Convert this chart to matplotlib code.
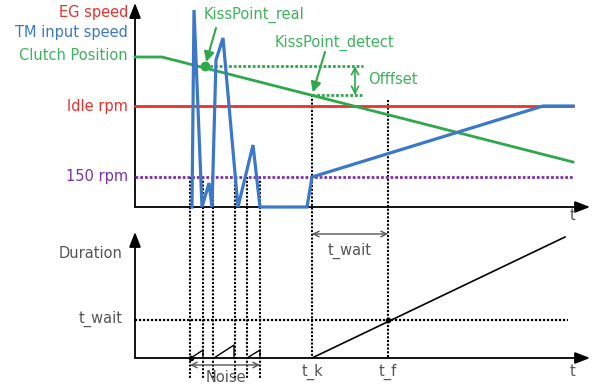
import numpy as np
import matplotlib.pyplot as plt
from matplotlib.lines import Line2D

# schematic in canvas units (x to the right, y downwards like the source picture)
RED = "#e8322c"
BLUE = "#3b78c8"
GREEN = "#2ea84a"
GREEN_TXT = "#3db35c"
PURPLE = "#7a30b0"
GREY = "#555555"

# top panel
top_origin = (135, 207)
top_xend = 590
top_yend = 3
idle_y = 106
rpm150_y = 177
curve_xend = 573

clutch_x = [135, 162, 573]
clutch_y = [57, 57, 162]

tm_x = [192, 194, 202, 209, 212, 216, 223, 238, 253, 260, 307, 312, 543, 573]
tm_y = [207, 10, 207, 183, 207, 60, 38, 207, 145, 207, 207, 177, 106, 106]

kiss_real = (205, 66)
kiss_detect = (312, 95)
offset_x = 355
offset_xend = 363

noise_x = [190, 203, 213, 235, 247, 260]
t_k = 312
t_f = 388

# bottom panel
bot_origin = (135, 358)
bot_yend = 232
twait_y = 320
dur_x = [312, 565]
dur_y = [358, 237]
saw_x = [[191, 203, 203], [214, 234, 234], [247, 260, 260]]
saw_y = [[358, 350, 358], [358, 345, 358], [358, 350, 358]]

fig = plt.figure(figsize=(5.96, 3.85), dpi=100)
ax = fig.add_axes([0, 0, 1, 1])
ax.set_xlim(0, 596)
ax.set_ylim(385, 0)
ax.axis("off")

font = dict(family="DejaVu Sans", fontsize=10.5)
DOT = (0, (1, 0.8))

def axis_arrow(x0, y0, x1, y1):
    ax.annotate("", xy=(x1, y1), xytext=(x0, y0),
                arrowprops=dict(arrowstyle="-|>,head_length=0.9,head_width=0.35",
                                color="black", lw=1.3, shrinkA=0, shrinkB=0))

# axes of top panel
axis_arrow(top_origin[0], top_origin[1], top_origin[0], top_yend)
axis_arrow(top_origin[0], top_origin[1], top_xend, top_origin[1])
ax.text(573, 216, "t", color=GREY, ha="center", va="center", **font)

# vertical dotted markers
for x in noise_x:
    ax.plot([x, x], [rpm150_y, 378], color="black", lw=1.5, ls=DOT, zorder=2)
ax.plot([t_k, t_k], [kiss_detect[1], bot_origin[1]], color="black", lw=1.5, ls=DOT, zorder=2)
ax.plot([t_f, t_f], [100, bot_origin[1]], color="black", lw=1.5, ls=DOT, zorder=2)

# reference levels
ax.plot([135, curve_xend], [idle_y, idle_y], color=RED, lw=2, zorder=3)
ax.plot([135, curve_xend], [rpm150_y, rpm150_y], color=PURPLE, lw=2, ls=(0, (1, 0.7)), zorder=3)

# clutch and kiss point offset
ax.plot(clutch_x, clutch_y, color=GREEN, lw=2, zorder=4)
ax.plot([kiss_real[0], offset_xend], [kiss_real[1]] * 2, color=GREEN, lw=2, ls=(0, (1, 0.7)), zorder=4)
ax.plot([kiss_detect[0], offset_xend], [kiss_detect[1]] * 2, color=GREEN, lw=2, ls=(0, (1, 0.7)), zorder=4)
ax.plot(*kiss_real, "o", color=GREEN, ms=6, zorder=6)
ax.annotate("", xy=(offset_x, kiss_real[1]), xytext=(offset_x, kiss_detect[1]),
            arrowprops=dict(arrowstyle="<->,head_length=0.5,head_width=0.25", color=GREEN, lw=1.2,
                            shrinkA=0, shrinkB=0))
ax.text(368, 80, "Offfset", color=GREEN_TXT, ha="left", va="center", **font)

# TM input speed
ax.plot(tm_x, tm_y, color=BLUE, lw=2.3, zorder=5, solid_joinstyle="miter")

# kiss point labels
ax.annotate("", xy=kiss_real, xytext=(216, 28),
            arrowprops=dict(arrowstyle="-|>,head_length=0.6,head_width=0.3", color=GREEN, lw=1.5,
                            shrinkA=0, shrinkB=3))
ax.text(204, 15, "KissPoint_real", color=GREEN_TXT, ha="left", va="center", **font)
ax.annotate("", xy=kiss_detect, xytext=(325, 52),
            arrowprops=dict(arrowstyle="-|>,head_length=0.6,head_width=0.3", color=GREEN, lw=1.5,
                            shrinkA=0, shrinkB=2))
ax.text(275, 43, "KissPoint_detect", color=GREEN_TXT, ha="left", va="center", **font)

# left labels
ax.text(128, 13, "EG speed", color=RED, ha="right", va="center", **font)
ax.text(128, 33, "TM input speed", color=BLUE, ha="right", va="center", **font)
ax.text(128, 56, "Clutch Position", color=GREEN_TXT, ha="right", va="center", **font)
ax.text(128, idle_y, "Idle rpm", color=RED, ha="right", va="center", **font)
ax.text(128, rpm150_y, "150 rpm", color=PURPLE, ha="right", va="center", **font)

# bottom panel
axis_arrow(bot_origin[0], bot_origin[1], bot_origin[0], bot_yend)
axis_arrow(bot_origin[0], bot_origin[1], top_xend, bot_origin[1])
ax.text(573, 372, "t", color=GREY, ha="center", va="center", **font)
ax.text(123, 253, "Duration", color=GREY, ha="right", va="center", **font)
ax.text(123, 319, "t_wait", color=GREY, ha="right", va="center", **font)
ax.plot([135, 568], [twait_y, twait_y], color="black", lw=1.6, ls=DOT, zorder=3)
ax.plot(dur_x, dur_y, color="black", lw=1.2, zorder=4)
for sx, sy in zip(saw_x, saw_y):
    ax.plot(sx, sy, color="black", lw=1.0, zorder=4)
ax.plot(191, 358, "o", color="black", ms=3, zorder=5)
ax.plot(t_f, twait_y, "o", color="black", ms=3, zorder=5)

# span arrows
ax.annotate("", xy=(noise_x[0], 365), xytext=(noise_x[-1], 365),
            arrowprops=dict(arrowstyle="<->,head_length=0.4,head_width=0.2", color=GREY, lw=1.0,
                            shrinkA=0, shrinkB=0))
ax.text(226, 377, "Noise", color=GREY, ha="center", va="center", **font)
ax.annotate("", xy=(t_k, 234), xytext=(t_f, 234),
            arrowprops=dict(arrowstyle="<->,head_length=0.4,head_width=0.2", color=GREY, lw=1.0,
                            shrinkA=0, shrinkB=0))
ax.text(350, 251, "t_wait", color=GREY, ha="center", va="center", **font)
ax.text(t_k, 372, "t_k", color=GREY, ha="center", va="center", **font)
ax.text(t_f, 372, "t_f", color=GREY, ha="center", va="center", **font)

fig.savefig("out.png", dpi=100)
